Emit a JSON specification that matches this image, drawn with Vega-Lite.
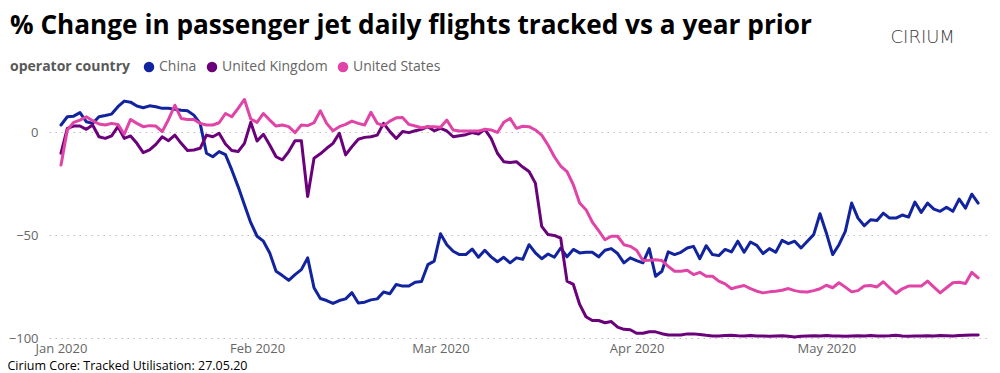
{
  "$schema": "https://vega.github.io/schema/vega-lite/v6.json",
  "width": 938,
  "height": 241,
  "autosize": {"type": "none"},
  "padding": {"left": 49, "top": 97, "right": 13, "bottom": 35},
  "background": "white",
  "config": {"view": {"stroke": null}, "font": "Open Sans"},
  "title": {
    "text": "% Change in passenger jet daily flights tracked vs a year prior",
    "anchor": "start",
    "frame": "group",
    "dx": -39,
    "dy": 21,
    "offset": 10,
    "font": "Open Sans",
    "fontSize": 26.2,
    "fontWeight": "bold",
    "color": "#000000"
  },
  "data": {
    "values": [
      {"d": "2020-01-01", "China": 3.4, "United Kingdom": -10.3, "United States": -16},
      {"d": "2020-01-02", "China": 7.4, "United Kingdom": 1.8, "United States": 1},
      {"d": "2020-01-03", "China": 7.7, "United Kingdom": 2.9, "United States": 4.7},
      {"d": "2020-01-04", "China": 9.4, "United Kingdom": 2.9, "United States": 5.8},
      {"d": "2020-01-05", "China": 5, "United Kingdom": 1.3, "United States": 7.4},
      {"d": "2020-01-06", "China": 4.2, "United Kingdom": 3.4, "United States": 5.5},
      {"d": "2020-01-07", "China": 7.4, "United Kingdom": -2.3, "United States": 3.9},
      {"d": "2020-01-08", "China": 8, "United Kingdom": -3.1, "United States": 3.4},
      {"d": "2020-01-09", "China": 8.7, "United Kingdom": -1.9, "United States": 4.2},
      {"d": "2020-01-10", "China": 12.3, "United Kingdom": 2.6, "United States": 3.7},
      {"d": "2020-01-11", "China": 15, "United Kingdom": -3.1, "United States": -1.1},
      {"d": "2020-01-12", "China": 14.5, "United Kingdom": -1.9, "United States": 6.1},
      {"d": "2020-01-13", "China": 12.6, "United Kingdom": -5.5, "United States": 4.2},
      {"d": "2020-01-14", "China": 11.8, "United Kingdom": -10, "United States": 2.6},
      {"d": "2020-01-15", "China": 12.7, "United Kingdom": -8.7, "United States": 3.1},
      {"d": "2020-01-16", "China": 12.3, "United Kingdom": -6, "United States": 2.9},
      {"d": "2020-01-17", "China": 11.5, "United Kingdom": -2.3, "United States": 0.2},
      {"d": "2020-01-18", "China": 11.5, "United Kingdom": -4.2, "United States": 6.1},
      {"d": "2020-01-19", "China": 11, "United Kingdom": -1.5, "United States": 13},
      {"d": "2020-01-20", "China": 10.6, "United Kingdom": -5.5, "United States": 6.6},
      {"d": "2020-01-21", "China": 10.3, "United Kingdom": -9, "United States": 6.1},
      {"d": "2020-01-22", "China": 8.2, "United Kingdom": -8.7, "United States": 6.1},
      {"d": "2020-01-23", "China": 4.2, "United Kingdom": -7.9, "United States": 4.2},
      {"d": "2020-01-24", "China": -10.3, "United Kingdom": -1.5, "United States": 3.4},
      {"d": "2020-01-25", "China": -12, "United Kingdom": -2.3, "United States": 3.4},
      {"d": "2020-01-26", "China": -9.5, "United Kingdom": -0.6, "United States": 4.5},
      {"d": "2020-01-27", "China": -11, "United Kingdom": -5.8, "United States": 9},
      {"d": "2020-01-28", "China": -18.4, "United Kingdom": -9, "United States": 7.4},
      {"d": "2020-01-29", "China": -26.5, "United Kingdom": -9.5, "United States": 11.5},
      {"d": "2020-01-30", "China": -35.3, "United Kingdom": -5.5, "United States": 15.8},
      {"d": "2020-01-31", "China": -44, "United Kingdom": 4.7, "United States": 6.3},
      {"d": "2020-02-01", "China": -50.6, "United Kingdom": -4.4, "United States": 4.7},
      {"d": "2020-02-02", "China": -53, "United Kingdom": -1.1, "United States": 9},
      {"d": "2020-02-03", "China": -58.7, "United Kingdom": -6.3, "United States": 5.8},
      {"d": "2020-02-04", "China": -67.6, "United Kingdom": -12, "United States": 2.9},
      {"d": "2020-02-05", "China": -69.7, "United Kingdom": -13.5, "United States": 3.4},
      {"d": "2020-02-06", "China": -72, "United Kingdom": -9.5, "United States": 2.6},
      {"d": "2020-02-07", "China": -69.2, "United Kingdom": -4.2, "United States": -0.3},
      {"d": "2020-02-08", "China": -66.8, "United Kingdom": -4.2, "United States": 3.4},
      {"d": "2020-02-09", "China": -61.1, "United Kingdom": -31.3, "United States": 3.1},
      {"d": "2020-02-10", "China": -75.6, "United Kingdom": -12.7, "United States": 4.5},
      {"d": "2020-02-11", "China": -80.8, "United Kingdom": -10.6, "United States": 10.3},
      {"d": "2020-02-12", "China": -81.8, "United Kingdom": -7.9, "United States": 4.2},
      {"d": "2020-02-13", "China": -83.2, "United Kingdom": -5.5, "United States": 0.6},
      {"d": "2020-02-14", "China": -81.8, "United Kingdom": -0.6, "United States": 2.6},
      {"d": "2020-02-15", "China": -81, "United Kingdom": -11.1, "United States": 3.7},
      {"d": "2020-02-16", "China": -78, "United Kingdom": -7.1, "United States": 5.3},
      {"d": "2020-02-17", "China": -83, "United Kingdom": -3.5, "United States": 4.2},
      {"d": "2020-02-18", "China": -82.6, "United Kingdom": -2.6, "United States": 3.4},
      {"d": "2020-02-19", "China": -81.5, "United Kingdom": -2.3, "United States": 9.6},
      {"d": "2020-02-20", "China": -81, "United Kingdom": -1.5, "United States": 4.2},
      {"d": "2020-02-21", "China": -77.7, "United Kingdom": 4.2, "United States": 3.1},
      {"d": "2020-02-22", "China": -78.5, "United Kingdom": 0.2, "United States": 5.3},
      {"d": "2020-02-23", "China": -74, "United Kingdom": -3.1, "United States": 6.9},
      {"d": "2020-02-24", "China": -74.8, "United Kingdom": 0.2, "United States": 7.1},
      {"d": "2020-02-25", "China": -74.8, "United Kingdom": -0.3, "United States": 3.7},
      {"d": "2020-02-26", "China": -72.9, "United Kingdom": 0.6, "United States": 2.9},
      {"d": "2020-02-27", "China": -72.6, "United Kingdom": 1.3, "United States": 2.1},
      {"d": "2020-02-28", "China": -64.4, "United Kingdom": 2.6, "United States": 2.6},
      {"d": "2020-02-29", "China": -62.7, "United Kingdom": 0.6, "United States": 2.6},
      {"d": "2020-03-01", "China": -49.4, "United Kingdom": 1.8, "United States": 2.3},
      {"d": "2020-03-02", "China": -54.7, "United Kingdom": 0.5, "United States": 5.8},
      {"d": "2020-03-03", "China": -57.9, "United Kingdom": -2.3, "United States": 1},
      {"d": "2020-03-04", "China": -59.5, "United Kingdom": -1.8, "United States": 0.5},
      {"d": "2020-03-05", "China": -59.5, "United Kingdom": -1.3, "United States": 0.5},
      {"d": "2020-03-06", "China": -56.8, "United Kingdom": -0.3, "United States": 0.5},
      {"d": "2020-03-07", "China": -60.8, "United Kingdom": -1, "United States": 0.5},
      {"d": "2020-03-08", "China": -57.4, "United Kingdom": 1.3, "United States": 1.3},
      {"d": "2020-03-09", "China": -60.6, "United Kingdom": -3.1, "United States": 1},
      {"d": "2020-03-10", "China": -63, "United Kingdom": -10.3, "United States": -0.2},
      {"d": "2020-03-11", "China": -60.8, "United Kingdom": -14.4, "United States": 4.7},
      {"d": "2020-03-12", "China": -63.5, "United Kingdom": -14.8, "United States": 6.6},
      {"d": "2020-03-13", "China": -61.1, "United Kingdom": -14.4, "United States": 1.8},
      {"d": "2020-03-14", "China": -61.8, "United Kingdom": -17, "United States": 2.8},
      {"d": "2020-03-15", "China": -54.7, "United Kingdom": -19.2, "United States": 2.6},
      {"d": "2020-03-16", "China": -58.7, "United Kingdom": -24.8, "United States": 1},
      {"d": "2020-03-17", "China": -61.5, "United Kingdom": -45.8, "United States": -1.5},
      {"d": "2020-03-18", "China": -59.2, "United Kingdom": -49.8, "United States": -6.3},
      {"d": "2020-03-19", "China": -60.8, "United Kingdom": -50.2, "United States": -12},
      {"d": "2020-03-20", "China": -56.3, "United Kingdom": -51.5, "United States": -16.5},
      {"d": "2020-03-21", "China": -60.6, "United Kingdom": -72.4, "United States": -19.2},
      {"d": "2020-03-22", "China": -57, "United Kingdom": -74, "United States": -25.6},
      {"d": "2020-03-23", "China": -58.7, "United Kingdom": -83.7, "United States": -34.5},
      {"d": "2020-03-24", "China": -58.4, "United Kingdom": -89.7, "United States": -37.7},
      {"d": "2020-03-25", "China": -58.4, "United Kingdom": -91.5, "United States": -43.7},
      {"d": "2020-03-26", "China": -60.6, "United Kingdom": -91.5, "United States": -47.9},
      {"d": "2020-03-27", "China": -57.4, "United Kingdom": -92.6, "United States": -52.3},
      {"d": "2020-03-28", "China": -56.6, "United Kingdom": -92, "United States": -50.6},
      {"d": "2020-03-29", "China": -59, "United Kingdom": -94.7, "United States": -50.6},
      {"d": "2020-03-30", "China": -63.5, "United Kingdom": -95.8, "United States": -54.7},
      {"d": "2020-03-31", "China": -61.1, "United Kingdom": -96, "United States": -55.5},
      {"d": "2020-04-01", "China": -62.4, "United Kingdom": -97.7, "United States": -57.4},
      {"d": "2020-04-02", "China": -63.5, "United Kingdom": -97.7, "United States": -62.4},
      {"d": "2020-04-03", "China": -56.6, "United Kingdom": -97, "United States": -62.3},
      {"d": "2020-04-04", "China": -70, "United Kingdom": -97, "United States": -62},
      {"d": "2020-04-05", "China": -67.6, "United Kingdom": -97.9, "United States": -62.4},
      {"d": "2020-04-06", "China": -58.2, "United Kingdom": -98.5, "United States": -65.2},
      {"d": "2020-04-07", "China": -59.5, "United Kingdom": -98.5, "United States": -67.6},
      {"d": "2020-04-08", "China": -58.4, "United Kingdom": -98.5, "United States": -67.6},
      {"d": "2020-04-09", "China": -56.3, "United Kingdom": -98, "United States": -67.1},
      {"d": "2020-04-10", "China": -55.5, "United Kingdom": -98, "United States": -69.2},
      {"d": "2020-04-11", "China": -61.5, "United Kingdom": -98.3, "United States": -68.1},
      {"d": "2020-04-12", "China": -55.2, "United Kingdom": -98.7, "United States": -70},
      {"d": "2020-04-13", "China": -59.5, "United Kingdom": -99, "United States": -70},
      {"d": "2020-04-14", "China": -60, "United Kingdom": -99, "United States": -72.4},
      {"d": "2020-04-15", "China": -57, "United Kingdom": -98.8, "United States": -73.7},
      {"d": "2020-04-16", "China": -58.2, "United Kingdom": -98.7, "United States": -76.1},
      {"d": "2020-04-17", "China": -53, "United Kingdom": -98.9, "United States": -75.2},
      {"d": "2020-04-18", "China": -58.4, "United Kingdom": -99, "United States": -74.5},
      {"d": "2020-04-19", "China": -53.4, "United Kingdom": -98.8, "United States": -76},
      {"d": "2020-04-20", "China": -55, "United Kingdom": -99, "United States": -77.3},
      {"d": "2020-04-21", "China": -59, "United Kingdom": -99, "United States": -78.1},
      {"d": "2020-04-22", "China": -56.6, "United Kingdom": -99.1, "United States": -77.6},
      {"d": "2020-04-23", "China": -58.4, "United Kingdom": -99, "United States": -77.3},
      {"d": "2020-04-24", "China": -52.6, "United Kingdom": -98.9, "United States": -76.8},
      {"d": "2020-04-25", "China": -54.2, "United Kingdom": -99.2, "United States": -76},
      {"d": "2020-04-26", "China": -53, "United Kingdom": -99.5, "United States": -77},
      {"d": "2020-04-27", "China": -56.3, "United Kingdom": -99.1, "United States": -77.6},
      {"d": "2020-04-28", "China": -53, "United Kingdom": -99, "United States": -77.7},
      {"d": "2020-04-29", "China": -49.8, "United Kingdom": -98.9, "United States": -77},
      {"d": "2020-04-30", "China": -39.7, "United Kingdom": -99, "United States": -76.1},
      {"d": "2020-05-01", "China": -49, "United Kingdom": -98.8, "United States": -74.4},
      {"d": "2020-05-02", "China": -59.5, "United Kingdom": -99, "United States": -75.6},
      {"d": "2020-05-03", "China": -54.7, "United Kingdom": -99, "United States": -73.2},
      {"d": "2020-05-04", "China": -48.2, "United Kingdom": -99.1, "United States": -75.3},
      {"d": "2020-05-05", "China": -34.5, "United Kingdom": -99, "United States": -77.6},
      {"d": "2020-05-06", "China": -41.8, "United Kingdom": -98.9, "United States": -77},
      {"d": "2020-05-07", "China": -45.5, "United Kingdom": -99, "United States": -74.8},
      {"d": "2020-05-08", "China": -42.6, "United Kingdom": -98.8, "United States": -74.5},
      {"d": "2020-05-09", "China": -43, "United Kingdom": -99, "United States": -75.2},
      {"d": "2020-05-10", "China": -39.4, "United Kingdom": -99, "United States": -72.7},
      {"d": "2020-05-11", "China": -41.8, "United Kingdom": -98.9, "United States": -75.6},
      {"d": "2020-05-12", "China": -41.8, "United Kingdom": -98.7, "United States": -78.4},
      {"d": "2020-05-13", "China": -40.3, "United Kingdom": -99, "United States": -76.1},
      {"d": "2020-05-14", "China": -41.3, "United Kingdom": -99.2, "United States": -74.8},
      {"d": "2020-05-15", "China": -34, "United Kingdom": -99, "United States": -74.8},
      {"d": "2020-05-16", "China": -39, "United Kingdom": -99, "United States": -74.8},
      {"d": "2020-05-17", "China": -34.5, "United Kingdom": -98.9, "United States": -72.4},
      {"d": "2020-05-18", "China": -37.4, "United Kingdom": -99, "United States": -75.3},
      {"d": "2020-05-19", "China": -38.5, "United Kingdom": -98.8, "United States": -78.1},
      {"d": "2020-05-20", "China": -36.5, "United Kingdom": -98.9, "United States": -75.6},
      {"d": "2020-05-21", "China": -38.5, "United Kingdom": -99, "United States": -73.2},
      {"d": "2020-05-22", "China": -32.6, "United Kingdom": -98.8, "United States": -72.9},
      {"d": "2020-05-23", "China": -37, "United Kingdom": -98.7, "United States": -73.5},
      {"d": "2020-05-24", "China": -30.2, "United Kingdom": -98.6, "United States": -68.1},
      {"d": "2020-05-25", "China": -34.5, "United Kingdom": -98.5, "United States": -70.8}
    ]
  },
  "transform": [
    {"fold": ["China", "United Kingdom", "United States"], "as": ["country", "value"]}
  ],
  "mark": {"type": "line", "strokeWidth": 3, "strokeJoin": "round", "strokeCap": "round"},
  "encoding": {
    "x": {
      "field": "d",
      "type": "temporal",
      "scale": {
        "type": "utc",
        "domain": [
          {"year": 2019, "month": 12, "date": 30, "hours": 2, "minutes": 28, "utc": true},
          {"year": 2020, "month": 5, "date": 26, "hours": 9, "minutes": 36, "utc": true}
        ]
      },
      "axis": {
        "values": [
          {"year": 2020, "month": 1, "date": 1, "utc": true},
          {"year": 2020, "month": 2, "date": 1, "utc": true},
          {"year": 2020, "month": 3, "date": 1, "utc": true},
          {"year": 2020, "month": 4, "date": 1, "utc": true},
          {"year": 2020, "month": 5, "date": 1, "utc": true}
        ],
        "labelExpr": "utcFormat(datum.value, '%b %Y')",
        "ticks": false,
        "domain": false,
        "grid": false,
        "labelColor": "#666666",
        "labelFont": "Open Sans",
        "labelFontSize": 13,
        "labelPadding": 4,
        "title": "Cirium Core: Tracked Utilisation: 27.05.20",
        "titleX": -42,
        "titleY": 31,
        "titleAlign": "left",
        "titleBaseline": "alphabetic",
        "titleFont": "Open Sans",
        "titleFontSize": 12.5,
        "titleFontWeight": "normal",
        "titleColor": "#000000"
      }
    },
    "y": {
      "field": "value",
      "type": "quantitative",
      "scale": {"domain": [-100, 17], "nice": false, "zero": false},
      "axis": {
        "values": [-100, -50, 0],
        "ticks": false,
        "domain": false,
        "grid": true,
        "gridDash": [1.5, 4.5],
        "gridColor": "#bdbdbd",
        "gridWidth": 1.2,
        "labelColor": "#666666",
        "labelFont": "Open Sans",
        "labelFontSize": 13,
        "labelPadding": 11,
        "title": "CIRIUM",
        "titleAngle": 0,
        "titleX": 841,
        "titleY": -55,
        "titleAlign": "left",
        "titleBaseline": "alphabetic",
        "titleFont": "DejaVu Sans",
        "titleFontSize": 18,
        "titleFontWeight": 300,
        "titleColor": "#3a3a3a"
      }
    },
    "color": {
      "field": "country",
      "type": "nominal",
      "scale": {
        "domain": ["China", "United Kingdom", "United States"],
        "range": ["#12239E", "#6B007B", "#E044A7"]
      },
      "legend": {
        "orient": "none",
        "legendX": -39,
        "legendY": -37,
        "direction": "horizontal",
        "title": "operator country",
        "titleOrient": "left",
        "titleFont": "Open Sans",
        "titleFontSize": 14,
        "titleFontWeight": "bold",
        "titleColor": "#595959",
        "titlePadding": 11,
        "labelFont": "Open Sans",
        "labelFontSize": 14,
        "labelColor": "#666666",
        "labelOffset": 3,
        "columnPadding": 8,
        "symbolType": "circle",
        "symbolSize": 110,
        "encode": {
          "symbols": {
            "update": {
              "fill": {"scale": "color", "field": "value"},
              "strokeWidth": {"value": 0},
              "opacity": {"value": 1}
            }
          }
        }
      }
    }
  }
}
